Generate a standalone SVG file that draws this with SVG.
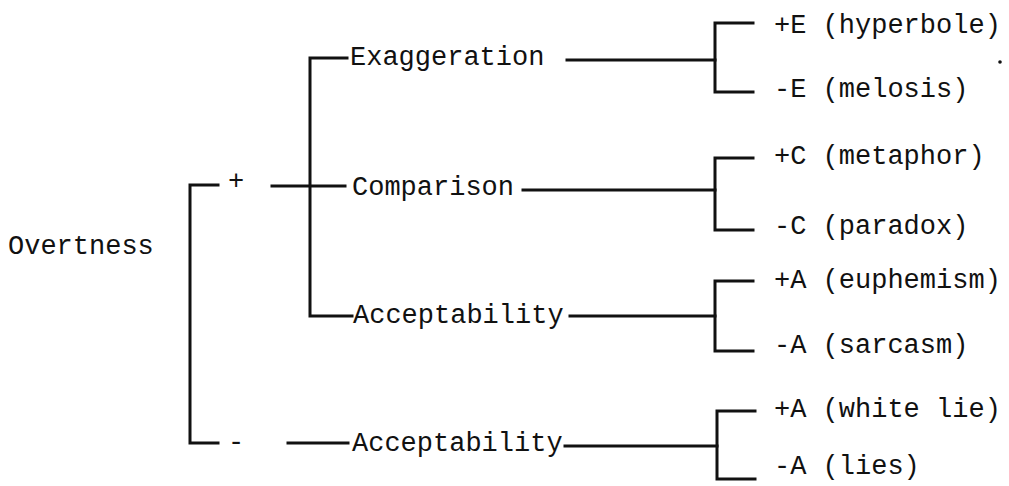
<svg xmlns="http://www.w3.org/2000/svg" width="1009" height="486" viewBox="0 0 1009 486">
<style>
text{font-family:"Liberation Mono","Courier New",monospace;font-size:27px;fill:#111;dominant-baseline:central}
.ln{stroke:#111;stroke-width:3;fill:none;stroke-linecap:square;stroke-linejoin:miter}
</style>
<rect width="1009" height="486" fill="#fff"/>
<g id="connectors" class="ln">
<path d="M218 185 H190 V443 H218"/>
<path d="M272 186 H345"/>
<path d="M347 58 H310 V316 H352"/>
<path d="M567 60 H715"/>
<path d="M753 23 H715 V92 H753"/>
<path d="M523 190 H715"/>
<path d="M753 158 H715 V230 H753"/>
<path d="M570 316 H715"/>
<path d="M753 281 H715 V351 H753"/>
<path d="M288 443 H348"/>
<path d="M565 446 H717"/>
<path d="M755 411 H717 V479 H755"/>
</g>
<g id="n-overtness"><text x="8" y="247">Overtness</text></g>
<g id="n-plus"><text x="228" y="182">+</text></g>
<g id="n-minus"><text x="228" y="443">-</text></g>
<g id="n-exaggeration"><text x="350" y="58">Exaggeration</text></g>
<g id="n-comparison"><text x="352" y="188">Comparison</text></g>
<g id="n-acceptability1"><text x="353" y="316">Acceptability</text></g>
<g id="n-acceptability2"><text x="352" y="444">Acceptability</text></g>
<g id="n-hyperbole"><text x="774" y="26">+E (hyperbole)</text></g>
<g id="n-melosis"><text x="774" y="90">-E (melosis)</text></g>
<g id="n-metaphor"><text x="774" y="157">+C (metaphor)</text></g>
<g id="n-paradox"><text x="774" y="227">-C (paradox)</text></g>
<g id="n-euphemism"><text x="774" y="281">+A (euphemism)</text></g>
<g id="n-sarcasm"><text x="774" y="346">-A (sarcasm)</text></g>
<g id="n-whitelie"><text x="774" y="410">+A (white lie)</text></g>
<g id="n-lies"><text x="774" y="467">-A (lies)</text></g>
<circle cx="1000" cy="62" r="1.8" fill="#111"/>
</svg>
